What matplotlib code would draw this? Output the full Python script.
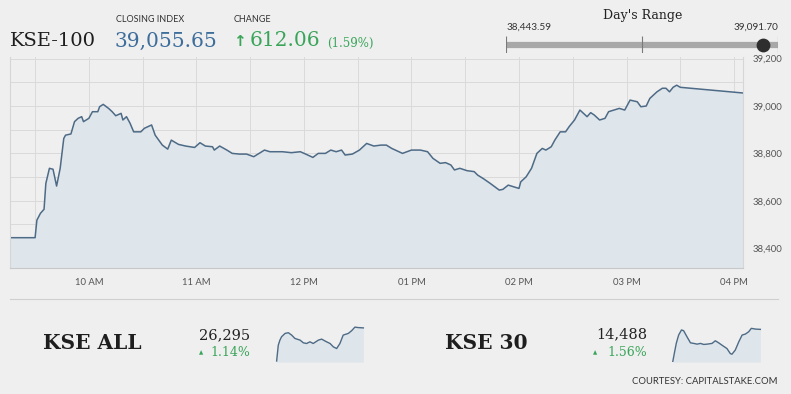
import numpy as np
import matplotlib
matplotlib.use("Agg")
import matplotlib.pyplot as plt

# KSE-100 intraday (time, index)
times = ["09:16", "09:30", "09:31", "09:33", "09:35", "09:36", "09:38", "09:40", "09:42", "09:44",
         "09:46", "09:47", "09:50", "09:52", "09:54", "09:56", "09:57", "10:00", "10:02", "10:05",
         "10:06", "10:08", "10:11", "10:13", "10:15", "10:18", "10:19", "10:21", "10:23", "10:25",
         "10:29", "10:31", "10:35", "10:37", "10:41", "10:44", "10:46", "10:50", "10:54", "10:59",
         "11:02", "11:05", "11:09", "11:10", "11:13", "11:17", "11:20", "11:24", "11:28", "11:32",
         "11:35", "11:38", "11:41", "11:48", "11:53", "11:58", "12:01", "12:05", "12:08", "12:12",
         "12:15", "12:18", "12:21", "12:23", "12:27", "12:31", "12:35", "12:39", "12:43", "12:46",
         "12:49", "12:53", "12:55", "13:00", "13:05", "13:09", "13:12", "13:16", "13:19", "13:22",
         "13:24", "13:27", "13:31", "13:35", "13:37", "13:40", "13:44", "13:47", "13:49", "13:51",
         "13:54", "13:57", "14:00", "14:01", "14:04", "14:07", "14:10", "14:13", "14:15", "14:18",
         "14:20", "14:23", "14:26", "14:28", "14:31", "14:34", "14:36", "14:38", "14:40", "14:42",
         "14:45", "14:48", "14:50", "14:53", "14:56", "14:59", "15:02", "15:06", "15:08", "15:11",
         "15:13", "15:17", "15:20", "15:22", "15:24", "15:26", "15:28", "15:30", "16:05"]
values = [38444, 38444, 38518, 38547, 38564, 38673, 38737, 38733, 38662, 38737,
          38863, 38877, 38882, 38934, 38948, 38955, 38934, 38948, 38976, 38976,
          38997, 39007, 38990, 38976, 38959, 38969, 38941, 38955, 38927, 38891,
          38891, 38906, 38920, 38877, 38835, 38818, 38856, 38838, 38831, 38825,
          38845, 38831, 38828, 38814, 38831, 38814, 38800, 38797, 38797, 38786,
          38800, 38814, 38807, 38807, 38803, 38807, 38797, 38783, 38800, 38800,
          38814, 38807, 38814, 38793, 38797, 38814, 38842, 38831, 38835, 38835,
          38821, 38807, 38800, 38814, 38814, 38807, 38779, 38758, 38761, 38751,
          38730, 38737, 38727, 38723, 38708, 38694, 38673, 38656, 38645, 38648,
          38666, 38659, 38652, 38680, 38701, 38737, 38800, 38821, 38814, 38828,
          38856, 38891, 38891, 38913, 38941, 38983, 38969, 38955, 38972, 38962,
          38941, 38948, 38976, 38983, 38990, 38983, 39025, 39018, 38997, 39000,
          39032, 39060, 39075, 39075, 39060, 39079, 39088, 39079, 39055]

hour_ticks = [10, 11, 12, 13, 14, 15, 16]
hour_labels = ["10 AM", "11 AM", "12 PM", "01 PM", "02 PM", "03 PM", "04 PM"]
y_ticks = [38400, 38600, 38800, 39000, 39200]

closing_index = "39,055.65"
change = "612.06"
change_pct = "(1.59%)"
day_low = 38443.59
day_high = 39091.70
close_value = 39055.65

# sparklines: minutes from open, index value
all_t = [0, 7, 14, 21, 36, 50, 64, 78, 100, 114, 128, 142, 156, 178, 192, 213, 228, 242, 256, 270,
         284, 306, 320, 334, 348, 370]
all_v = [26000, 26141, 26186, 26216, 26246, 26252, 26231, 26201, 26186, 26162, 26156, 26171, 26156,
         26186, 26195, 26171, 26156, 26126, 26111, 26156, 26231, 26246, 26270, 26302, 26298, 26295]
k30_t = [0, 8, 15, 25, 37, 46, 60, 75, 89, 103, 117, 131, 145, 166, 180, 194, 208, 229, 243, 250,
         264, 279, 293, 307, 321, 332, 349, 370]
k30_v = [14265, 14334, 14392, 14449, 14484, 14479, 14438, 14396, 14392, 14387, 14392, 14385, 14387,
         14392, 14410, 14396, 14380, 14357, 14323, 14318, 14346, 14403, 14449, 14456, 14472, 14495,
         14490, 14488]

W, H = 791, 394
BG = "#efefef"
LINE = "#4d6a86"
FILL = "#dee5eb"
GRID = "#dadada"
GREEN = "#3aa55a"
SERIF = "DejaVu Serif"
SANS = "Lato"


def to_min(s):
    h, m = s.split(":")
    return int(h) * 60 + int(m)


def box(x0, y0, x1, y1):
    # pixel box (top-left origin) -> figure fraction rect
    return [x0 / W, 1 - y1 / H, (x1 - x0) / W, (y1 - y0) / H]


def ftext(x, y, s, **kw):
    fig.text(x / W, 1 - y / H, s, **kw)


fig = plt.figure(figsize=(W / 100, H / 100), dpi=100, facecolor=BG)

# main chart
ax = fig.add_axes(box(10, 57, 743, 268))
ax.set_facecolor(BG)
t = np.array([to_min(s) for s in times])
v = np.array(values)
ax.fill_between(t, v, 38000, color=FILL, lw=0)
ax.plot(t, v, color=LINE, lw=1.1)
ax.set_xlim(556, 965)
ax.set_ylim(38316, 39207)
ax.set_xticks([h * 60 for h in hour_ticks])
ax.set_xticklabels(hour_labels)
ax.set_xticks(np.arange(570, 961, 30), minor=True)
ax.set_yticks(y_ticks)
ax.set_yticklabels([f"{y:,}" for y in y_ticks])
ax.set_yticks(np.arange(38400, 39201, 100), minor=True)
ax.yaxis.tick_right()
ax.grid(which="both", color=GRID, lw=0.7)
ax.set_axisbelow(True)
ax.tick_params(which="both", length=0)
ax.tick_params(axis="x", pad=7, labelsize=6.8, labelcolor="#555555")
ax.tick_params(axis="y", pad=7, labelsize=6.8, labelcolor="#555555")
for lab in ax.get_xticklabels() + ax.get_yticklabels():
    lab.set_fontfamily(SANS)
for name, sp in ax.spines.items():
    sp.set_color("#d6d6d6")
    sp.set_linewidth(0.8)
ax.spines["top"].set_visible(False)
ax.spines["bottom"].set_color("#c8c8c8")

# header
ftext(10, 41, "KSE-100", family=SERIF, fontsize=14, color="#1e1e1e", va="center")
ftext(116, 20, "CLOSING INDEX", family=SANS, fontsize=6.5, color="#333333", va="center")
ftext(115, 41, closing_index, family=SERIF, fontsize=14.5, color="#3d6d9b", va="center")
ftext(234, 20, "CHANGE", family=SANS, fontsize=6.5, color="#333333", va="center")
ftext(233, 42, "\u2191", family="DejaVu Sans", fontsize=11, color=GREEN, va="center", weight="bold")
ftext(250, 41, change, family=SERIF, fontsize=14.5, color=GREEN, va="center")
ftext(327, 43, change_pct, family=SERIF, fontsize=8.5, color=GREEN, va="center")

# day's range
ftext(643, 16, "Day's Range", family=SERIF, fontsize=9, color="#222222", ha="center", va="center")
ftext(507, 27, f"{day_low:,.2f}", family=SANS, fontsize=7.2, color="#333333", va="center")
ftext(778, 27, f"{day_high:,.2f}", family=SANS, fontsize=7.2, color="#333333", ha="right", va="center")
rax = fig.add_axes(box(506, 36, 778, 53))
rax.set_xlim(day_low, day_high)
rax.set_ylim(-1, 1)
rax.axis("off")
rax.hlines(0, day_low, day_high, color="#a8a8a8", lw=4.5)
rax.vlines([day_low, (day_low + day_high) / 2, day_high], -1, 1, color="#7a7a7a", lw=0.8)
rax.scatter([close_value], [0], s=80, color="#2e2e2e", zorder=3, clip_on=False)

# separator
fig.add_artist(plt.Line2D([10 / W, 778 / W], [1 - 299 / H, 1 - 299 / H], color="#cfcfcf", lw=0.8))


def spark(rect, tt, vv, xl, yl):
    sax = fig.add_axes(rect)
    sax.set_xlim(*xl)
    sax.set_ylim(*yl)
    sax.fill_between(tt, vv, yl[0], color=FILL, lw=0)
    sax.plot(tt, vv, color=LINE, lw=1)
    sax.axis("off")


# KSE ALL
ftext(43, 343, "KSE ALL", family=SERIF, fontsize=14.5, weight="bold", color="#1e1e1e", va="center")
ftext(250, 335, "26,295", family=SERIF, fontsize=10.5, color="#222222", ha="right", va="center")
ftext(250, 353, "1.14%", family=SERIF, fontsize=9, color=GREEN, ha="right", va="center")
ftext(199, 353, "\u25b2", family="DejaVu Sans", fontsize=4, color=GREEN, va="center")
spark(box(275, 326, 365, 362), all_t, all_v, (-7, 377), (25991, 26312))

# KSE 30
ftext(445, 343, "KSE 30", family=SERIF, fontsize=14.5, weight="bold", color="#1e1e1e", va="center")
ftext(647, 334, "14,488", family=SERIF, fontsize=10.5, color="#222222", ha="right", va="center")
ftext(647, 353, "1.56%", family=SERIF, fontsize=9, color=GREEN, ha="right", va="center")
ftext(593, 353, "\u25b2", family="DejaVu Sans", fontsize=4, color=GREEN, va="center")
spark(box(672, 326, 762, 362), k30_t, k30_v, (-3, 377), (14265, 14511))

ftext(778, 382, "COURTESY: CAPITALSTAKE.COM", family=SANS, fontsize=6.8, color="#333333",
      ha="right", va="center")

fig.savefig("out.png", dpi=100, facecolor=BG)
